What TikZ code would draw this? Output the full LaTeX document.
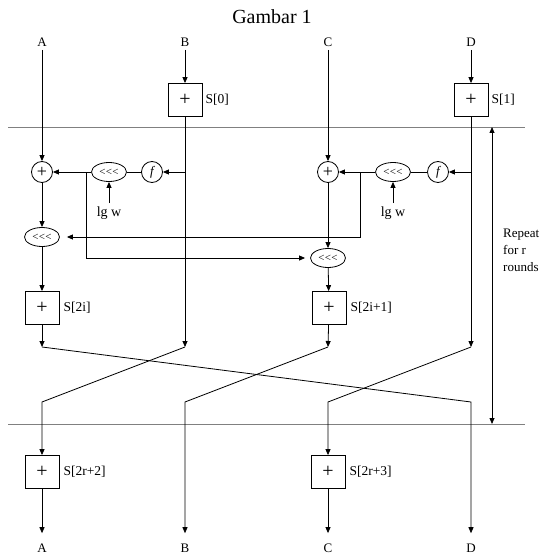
\documentclass[tikz,border=0pt]{standalone}
\usepackage{fontspec}
\setmainfont{Liberation Serif}
\usetikzlibrary{arrows.meta,shapes.geometric}
\newcommand{\rotl}{<\kern0.3pt<\kern0.3pt<}
\begin{document}
\begin{tikzpicture}[x=1pt,y=-1pt,
  every node/.style={font=\fontsize{13}{15}\selectfont},
  ln/.style={line width=0.8pt},
  arr/.style={ln,-{Triangle[length=6pt,width=5pt]}},
  addbox/.style={draw,line width=0.8pt,minimum width=34pt,minimum height=33pt,inner sep=0pt,font=\fontsize{20}{20}\selectfont},
  addcirc/.style={draw,circle,line width=0.8pt,minimum size=21pt,inner sep=0pt,font=\fontsize{18}{18}\selectfont},
  rot/.style={draw,ellipse,line width=0.8pt,minimum width=35pt,minimum height=19pt,inner sep=0pt,font=\fontsize{11}{11}\selectfont},
  fcirc/.style={draw,circle,line width=0.8pt,minimum size=21pt,inner sep=0pt,font=\fontsize{13}{13}\selectfont\itshape},
  slab/.style={anchor=west,inner sep=0pt,font=\fontsize{13.5}{15}\selectfont},
  sep/.style={gray,line width=0.8pt}
]
\useasboundingbox (0,0) rectangle (544,556);
\node[font=\fontsize{20}{24}\selectfont] (title) at (272,17) {Gambar 1};
% inputs
\node (inA) at (42,42) {A};
\node (inB) at (185,42) {B};
\node (inC) at (328,42) {C};
\node (inD) at (471,42) {D};
% key additions
\node[addbox] (bB) at (185,100) {+};
\node[slab] (sB) at ([xshift=3pt]bB.east) {S[0]};
\node[addbox] (bD) at (471,100) {+};
\node[slab] (sD) at ([xshift=3pt]bD.east) {S[1]};
% separators
\coordinate (s1l) at (8,127); \coordinate (s1r) at (525,127);
\coordinate (s2l) at (8,424); \coordinate (s2r) at (525,424);
\draw[sep] (s1l) -- (s1r);
\draw[sep] (s2l) -- (s2r);
% round, left half
\node[addcirc] (pA) at (42,172) {+};
\node[rot] (rA) at (109,172) {\rotl};
\node[fcirc] (fA) at (152,172) {f};
\node[font=\fontsize{14}{16}\selectfont] (lgA) at (109,213) {lg w};
\node[rot] (rA2) at (42,237) {\rotl};
% round, right half
\node[addcirc] (pC) at (328,172) {+};
\node[rot] (rC) at (393,172) {\rotl};
\node[fcirc] (fC) at (438,172) {f};
\node[font=\fontsize{14}{16}\selectfont] (lgC) at (393,213) {lg w};
\node[rot] (rC2) at (328,258) {\rotl};
% round keys
\node[addbox] (bA) at (42,308) {+};
\node[slab] (sA) at ([xshift=4pt]bA.east) {S[2i]};
\node[addbox] (bC) at (329,308) {+};
\node[slab] (sC) at ([xshift=4pt]bC.east) {S[2i+1]};
% junctions
\coordinate (jB) at (185,172);
\coordinate (jD) at (471,172);
\coordinate (kA) at (86,172);
\coordinate (kC) at (360,172);
\coordinate (a1) at (42,347); \coordinate (b1) at (185,347);
\coordinate (c1) at (328,347); \coordinate (d1) at (471,347);
\coordinate (a2) at (42,402); \coordinate (b2) at (185,402);
\coordinate (c2) at (328,402); \coordinate (d2) at (471,402);
% final keys
\node[addbox] (bA2) at (42,472) {+};
\node[slab] (sA2) at ([xshift=4pt]bA2.east) {S[2r+2]};
\node[addbox] (bC2) at (328,472) {+};
\node[slab] (sC2) at ([xshift=4pt]bC2.east) {S[2r+3]};
% outputs
\node (oA) at (42,548) {A};
\node (oB) at (185,548) {B};
\node (oC) at (328,548) {C};
\node (oD) at (471,548) {D};
% repeat
\coordinate (rt) at (492,127);
\coordinate (rb) at (492,424);
\draw[ln,{Triangle[length=6pt,width=5pt]}-{Triangle[length=6pt,width=5pt]}] (rt) -- (rb);
\node[align=left,anchor=north west,inner sep=0pt,font=\fontsize{13}{17}\selectfont] (rep) at (503,229) {Repeat\\for r\\rounds};
% connectors
\draw[arr] (inA) -- (pA);
\draw[arr] (inB) -- (bB);
\draw[arr] (bB) -- (b1);
\draw[arr] (jB) -- (fA);
\draw[ln] (fA) -- (rA);
\draw[arr] (rA) -- (pA);
\draw[arr] (lgA) -- (rA);
\draw[arr] (pA) -- (rA2);
\draw[arr,shorten >=5pt] (kA) |- (rC2);
\draw[arr,shorten >=7pt] (kC) |- (rA2);
\draw[arr] (rA2) -- (bA);
\draw[arr] (bA) -- (a1);
\draw[arr] (inC) -- (pC);
\draw[arr] (pC) -- (rC2);
\draw[arr] (rC2) -- (bC);
\draw[arr] (bC) -- (c1);
\draw[arr] (inD) -- (bD);
\draw[arr] (bD) -- (d1);
\draw[arr] (jD) -- (fC);
\draw[ln] (fC) -- (rC);
\draw[arr] (rC) -- (pC);
\draw[arr] (lgC) -- (rC);
\draw[arr,shorten >=7pt] (a1) -- (d2) -- (oD);
\draw[arr] (b1) -- (a2) -- (bA2);
\draw[arr,shorten >=7pt] (c1) -- (b2) -- (oB);
\draw[arr] (d1) -- (c2) -- (bC2);
\draw[arr,shorten >=7pt] (bA2) -- (oA);
\draw[arr,shorten >=7pt] (bC2) -- (oC);
\end{tikzpicture}
\end{document}
